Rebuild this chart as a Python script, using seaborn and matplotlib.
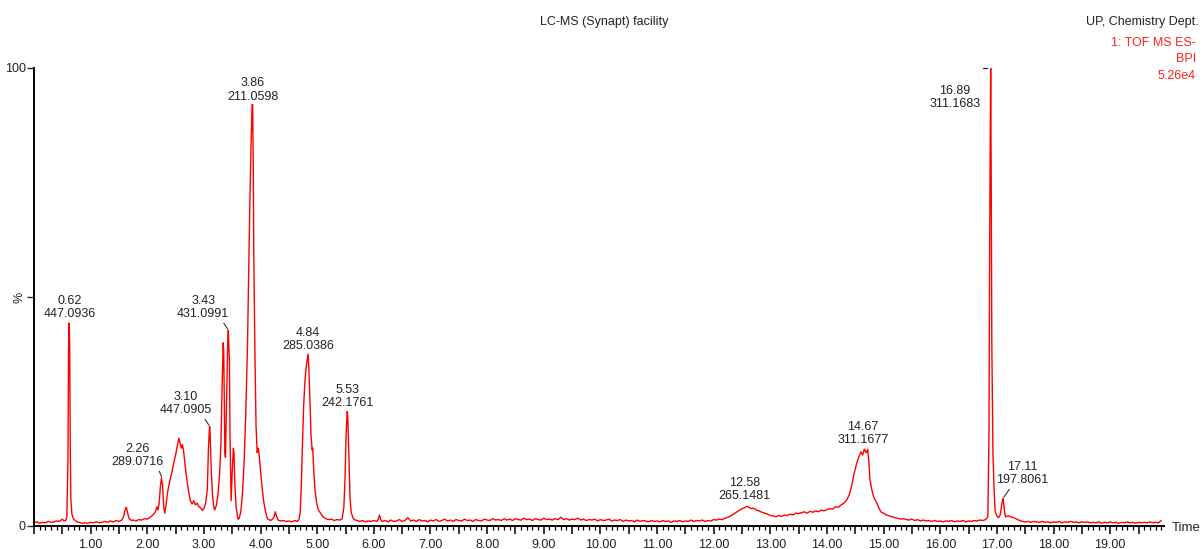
import numpy as np
import pandas as pd
import matplotlib
matplotlib.use("Agg")
import matplotlib.pyplot as plt
import seaborn as sns
from matplotlib.ticker import MultipleLocator, FuncFormatter

# ---------------- data ----------------
early_time = [0.00, 0.05, 0.10, 0.15, 0.20, 0.25, 0.30, 0.35, 0.40, 0.45, 0.50, 0.53, 0.56, 0.58,
              0.60, 0.61, 0.62, 0.63, 0.64, 0.65, 0.67, 0.70, 0.74,
              0.75, 0.80, 0.85, 0.90, 0.95, 1.00, 1.05, 1.10, 1.15, 1.20, 1.25, 1.30, 1.35, 1.40, 1.45, 1.50, 1.55,
              1.58, 1.61, 1.63, 1.65, 1.68, 1.72,
              1.75, 1.80, 1.85, 1.90, 1.95, 2.00, 2.05, 2.10, 2.14, 2.17, 2.19, 2.21, 2.23, 2.25, 2.27, 2.29, 2.31,
              2.33, 2.36, 2.40, 2.44, 2.47, 2.50, 2.53, 2.56, 2.58, 2.60, 2.62, 2.64, 2.67, 2.70, 2.73, 2.76, 2.79,
              2.82, 2.85, 2.88, 2.91, 2.94, 2.97, 3.00, 3.03, 3.06, 3.08, 3.10, 3.11, 3.13, 3.15, 3.17, 3.19, 3.22,
              3.25, 3.28, 3.30, 3.32, 3.34, 3.35, 3.37, 3.38, 3.40, 3.42, 3.43, 3.45, 3.46, 3.48, 3.50, 3.52, 3.53,
              3.55, 3.57, 3.60, 3.62, 3.65, 3.68, 3.71, 3.74, 3.77, 3.79, 3.81, 3.83, 3.85, 3.86, 3.87, 3.88, 3.90,
              3.92, 3.94, 3.96, 3.98, 4.00, 4.03, 4.06, 4.09, 4.12, 4.15, 4.18, 4.21, 4.24, 4.26, 4.28, 4.31, 4.35,
              4.40, 4.45, 4.50, 4.55, 4.60, 4.65, 4.68, 4.70, 4.72, 4.74, 4.76, 4.78, 4.80, 4.82, 4.84, 4.85, 4.87,
              4.89, 4.91, 4.92, 4.94, 4.96, 4.99, 5.02, 5.06, 5.10, 5.15, 5.20, 5.25, 5.30, 5.35, 5.40, 5.44, 5.47,
              5.49, 5.51, 5.53, 5.54, 5.56, 5.58, 5.60, 5.63, 5.66, 5.70, 5.75, 5.80, 5.85, 5.90, 5.95, 6.00, 6.05,
              6.08, 6.10, 6.12, 6.15]
early_intensity = [0.7, 0.9, 0.6, 0.8, 0.7, 1.0, 0.8, 0.9, 1.1, 1.0, 1.5, 1.1, 1.2, 2.0,
                   15, 38, 44.3, 40, 18, 6, 2.5, 1.5, 1.1,
                   0.9, 0.8, 0.6, 0.7, 0.6, 0.8, 0.7, 0.9, 0.7, 0.8, 1.0, 0.8, 1.1, 0.9, 1.2, 1.0, 1.3,
                   2.0, 3.6, 4.1, 3.0, 1.6, 1.2,
                   1.3, 1.1, 1.4, 1.3, 1.6, 1.5, 1.9, 2.4, 3.0, 4.2, 3.5, 5.0, 8.5, 10.5, 9.0, 4.0, 2.8,
                   4.5, 7.5, 10, 12, 14, 15.5, 17.5, 19.2, 18, 17, 17.8, 16.5, 13, 10, 7.5, 5.5, 4.8,
                   5.5, 4.6, 5.0, 4.2, 4.0, 3.4, 3.8, 5.0, 8, 17, 21.8, 20, 12, 7, 4.5, 3.5, 4.5,
                   7, 12, 18, 30, 40, 38, 16, 15, 28, 40, 42.8, 36, 20, 5.5, 12, 17, 16,
                   8, 4, 1.5, 1.6, 3, 7, 14, 25, 40, 55, 70, 82, 92, 92, 80, 60, 38,
                   22, 16, 17, 15, 12, 8, 5, 3, 1.6, 1.4, 1.2, 1.5, 2.0, 3.1, 2.2, 1.3, 1.1,
                   1.2, 1.0, 1.1, 0.9, 1.2, 1.0, 1.5, 3, 9, 18, 26, 31, 34, 36, 37.5, 35, 28,
                   20, 16.6, 17, 12, 8, 5, 3.5, 2.8, 2.0, 1.6, 1.4, 1.5, 1.2, 1.4, 1.3, 1.6, 4,
                   10, 20, 25, 24, 15, 6, 3, 1.8, 1.4, 1.2, 1.0, 1.2, 0.9, 1.1, 1.0, 1.2, 1.0,
                   1.5, 2.4, 1.4, 1.0]

mid_time = [6.20, 6.25, 6.30, 6.35, 6.40, 6.45, 6.50, 6.55, 6.60, 6.65, 6.70, 6.75, 6.80, 6.85, 6.90, 6.95,
            7.00, 7.05, 7.10, 7.15, 7.20, 7.25, 7.30, 7.35, 7.40, 7.45, 7.50, 7.55, 7.60, 7.65, 7.70, 7.75,
            7.80, 7.85, 7.90, 7.95, 8.00, 8.05, 8.10, 8.15, 8.20, 8.25, 8.30, 8.35, 8.40, 8.45, 8.50, 8.55,
            8.60, 8.65, 8.70, 8.75, 8.80, 8.85, 8.90, 8.95, 9.00, 9.05, 9.10, 9.15, 9.20, 9.25, 9.30, 9.35,
            9.40, 9.45, 9.50, 9.55, 9.60, 9.65, 9.70, 9.75, 9.80, 9.85, 9.90, 9.95, 10.00, 10.05, 10.10, 10.15,
            10.20, 10.25, 10.30, 10.35, 10.40, 10.45, 10.50, 10.55, 10.60, 10.65, 10.70, 10.75, 10.80, 10.85,
            10.90, 10.95, 11.00, 11.05, 11.10, 11.15, 11.20, 11.25, 11.30, 11.35, 11.40, 11.45, 11.50, 11.55,
            11.60, 11.65, 11.70, 11.75, 11.80, 11.85, 11.90, 11.95]
mid_intensity = [1.2, 0.9, 1.3, 1.0, 1.1, 1.4, 1.0, 1.2, 1.8, 1.1, 1.3, 1.0, 1.4, 1.1, 1.2, 0.9,
                 1.3, 1.1, 1.4, 1.0, 1.2, 1.5, 1.1, 1.3, 1.0, 1.4, 1.2, 1.1, 1.5, 1.2, 1.3, 1.0,
                 1.4, 1.2, 1.1, 1.5, 1.3, 1.2, 1.6, 1.3, 1.4, 1.2, 1.6, 1.3, 1.5, 1.2, 1.6, 1.4,
                 1.3, 1.7, 1.4, 1.5, 1.2, 1.6, 1.4, 1.3, 1.7, 1.4, 1.5, 1.3, 1.6, 1.4, 1.9, 1.4,
                 1.6, 1.3, 1.5, 1.4, 1.7, 1.3, 1.5, 1.2, 1.4, 1.3, 1.5, 1.1, 1.4, 1.2, 1.3, 1.5,
                 1.1, 1.3, 1.2, 1.4, 1.0, 1.3, 1.1, 1.2, 0.9, 1.3, 1.0, 1.2, 1.1, 0.9,
                 1.2, 1.0, 1.1, 0.9, 1.2, 1.0, 1.1, 0.8, 1.1, 1.0, 1.2, 0.9, 1.1, 1.0,
                 1.3, 1.0, 1.2, 1.1, 1.3, 1.0, 1.2, 1.1]

late_time = [12.00, 12.05, 12.10, 12.15, 12.20, 12.25, 12.30, 12.35, 12.40, 12.45, 12.50, 12.55, 12.58, 12.62,
             12.66, 12.70, 12.75, 12.80, 12.85, 12.90, 12.95, 13.00, 13.05, 13.10, 13.15, 13.20, 13.25, 13.30,
             13.35, 13.40, 13.45, 13.50, 13.55, 13.60, 13.65, 13.70, 13.75, 13.80, 13.85, 13.90, 13.95, 14.00,
             14.05, 14.10, 14.15, 14.20, 14.25, 14.30, 14.35, 14.40, 14.44, 14.48, 14.52, 14.56, 14.60, 14.63,
             14.66, 14.69, 14.72, 14.74, 14.76, 14.79, 14.82, 14.85, 14.88, 14.92, 14.96, 15.00, 15.05, 15.10,
             15.15, 15.20, 15.25, 15.30, 15.35, 15.40, 15.45, 15.50, 15.55, 15.60, 15.65, 15.70, 15.75, 15.80,
             15.85, 15.90, 15.95, 16.00, 16.05, 16.10, 16.15, 16.20, 16.25, 16.30, 16.35, 16.40, 16.45, 16.50,
             16.55, 16.60, 16.65, 16.70, 16.75, 16.80, 16.84, 16.86, 16.87, 16.88, 16.89, 16.90, 16.91, 16.93,
             16.95, 16.97, 17.00, 17.03, 17.06, 17.09, 17.11, 17.13, 17.15, 17.20, 17.25, 17.30, 17.35, 17.40,
             17.45, 17.50, 17.55, 17.60, 17.65, 17.70, 17.75, 17.80, 17.85, 17.90, 17.95, 18.00, 18.05, 18.10,
             18.15, 18.20, 18.25, 18.30, 18.35, 18.40, 18.45, 18.50, 18.55, 18.60, 18.65, 18.70, 18.75, 18.80,
             18.85, 18.90, 18.95, 19.00, 19.05, 19.10, 19.15, 19.20, 19.25, 19.30, 19.35, 19.40, 19.45, 19.50,
             19.55, 19.60, 19.65, 19.70, 19.75, 19.80, 19.85, 19.90]
late_intensity = [1.4, 1.3, 1.5, 1.4, 1.7, 1.9, 2.2, 2.6, 3.0, 3.4, 3.8, 4.0, 4.3, 4.1,
                  3.8, 3.9, 3.5, 3.3, 3.0, 2.8, 2.6, 2.3, 2.2, 2.0, 2.3, 2.1, 2.4, 2.3,
                  2.6, 2.4, 2.8, 2.7, 2.9, 3.1, 2.8, 3.2, 3.0, 3.3, 3.1, 3.5, 3.3, 3.6,
                  3.8, 3.7, 4.2, 4.1, 4.6, 5.0, 5.7, 7.0, 9.0, 11.5, 13.5, 15.0, 16.2, 15.5,
                  16.8, 16.0, 16.7, 14.0, 10.0, 8.0, 6.5, 5.7, 5.0, 3.8, 3.0, 2.8, 2.4, 2.2,
                  2.0, 1.8, 1.7, 1.5, 1.6, 1.4, 1.3, 1.5, 1.2, 1.4, 1.1, 1.3, 1.1, 1.2,
                  1.0, 1.2, 1.0, 1.1, 0.9, 1.1, 1.0, 1.2, 0.9, 1.1, 1.0, 1.2, 0.9, 1.1,
                  1.0, 1.2, 1.1, 1.3, 1.2, 1.4, 2.0, 20, 55, 80, 100, 75, 40, 16,
                  8, 3.1, 2.2, 1.8, 2.5, 5.0, 6.1, 3.5, 2.0, 2.2, 2.0, 1.8, 1.5, 1.2,
                  1.0, 0.9, 1.0, 0.8, 1.0, 0.9, 0.8, 1.0, 0.8, 0.9, 0.7, 0.9, 0.8, 1.0,
                  0.7, 0.9, 0.8, 1.0, 0.8, 0.9, 0.7, 0.9, 0.8, 0.9, 0.7, 0.8, 0.7, 0.9,
                  0.6, 0.8, 0.7, 0.9, 0.7, 0.8, 0.6, 0.8, 0.7, 0.9, 0.7, 0.8, 0.6, 0.8,
                  0.7, 0.8, 0.7, 0.9, 0.7, 0.8, 0.7, 1.2]

peak_rt = ["0.62", "2.26", "3.10", "3.43", "3.86", "4.84", "5.53", "12.58", "14.67", "16.89", "17.11"]
peak_mz = ["447.0936", "289.0716", "447.0905", "431.0991", "211.0598", "285.0386", "242.1761",
           "265.1481", "311.1677", "311.1683", "197.8061"]

x_tick_labels = ["1.00", "2.00", "3.00", "4.00", "5.00", "6.00", "7.00", "8.00", "9.00", "10.00",
                 "11.00", "12.00", "13.00", "14.00", "15.00", "16.00", "17.00", "18.00", "19.00"]

title_text = "LC-MS (Synapt) facility"
dept_text = "UP, Chemistry Dept."
trace_info = ["1: TOF MS ES-", "BPI", "5.26e4"]

# ---------------- figure ----------------
sns.set_style("ticks")
plt.rcParams["font.family"] = ["Liberation Sans", "DejaVu Sans"]

df = pd.DataFrame({
    "time": early_time + mid_time + late_time,
    "intensity": early_intensity + mid_intensity + late_intensity,
})

W, H = 1202, 549
fig = plt.figure(figsize=(W / 100, H / 100), dpi=100)
ax = fig.add_axes([34 / W, 23 / H, (1164 - 34) / W, 458 / H])

sns.lineplot(data=df, x="time", y="intensity", ax=ax, color="#ff0000",
             linewidth=1.0, sort=False, estimator=None)

ax.set_xlim(0, 19.95)
ax.set_ylim(0, 100)
ax.set_xlabel("")
ax.set_ylabel("")

for s in ["top", "right"]:
    ax.spines[s].set_visible(False)
for s in ["left", "bottom"]:
    ax.spines[s].set_linewidth(1.4)
    ax.spines[s].set_color("black")

# x ticks: majors every 0.5 (labels at whole minutes), minors every 0.1
ax.xaxis.set_major_locator(MultipleLocator(0.5))
ax.xaxis.set_minor_locator(MultipleLocator(0.1))
lab_map = {float(s): s for s in x_tick_labels}
ax.xaxis.set_major_formatter(FuncFormatter(lambda v, p: lab_map.get(round(v, 2), "")))
ax.tick_params(axis="x", which="major", length=6, width=1.1, direction="out",
               labelsize=9, pad=3, colors="black", labelcolor="#222222")
ax.tick_params(axis="x", which="minor", length=3, width=0.9, direction="out", colors="black")

ax.set_yticks([0, 50, 100])
ax.set_yticklabels(["0", "%", "100"])
ax.tick_params(axis="y", which="major", length=5, width=1.0, labelsize=9, pad=1, labelcolor="#222222")
ax.tick_params(axis="y", which="minor", length=0)
ax.get_yticklabels()[1].set_rotation(90)
ax.get_yticklabels()[1].set_va("center")

# peak labels
times = np.array(df["time"])
vals = np.array(df["intensity"])
px = 0.72  # points per pixel at 100 dpi
label_offsets = {
    "0.62": (1, 3, None), "2.26": (-25, 10, (0.9, 0)), "3.10": (-24, 10, (0.83, 0)),
    "3.43": (-25, 10, (0.85, 0)), "3.86": (0, 2, None), "4.84": (0, 2, None),
    "5.53": (0, 2, None), "12.58": (-2, 4, None), "14.67": (-2, 3, None),
    "16.89": (-36, -42, None), "17.11": (19, 12, (0.3, 0)),
}
for rt, mz in zip(peak_rt, peak_mz):
    t = float(rt)
    near = np.abs(times - t) <= 0.03
    h = vals[near].max()
    dx, dy, rel = label_offsets[rt]
    kw = dict(xy=(t, h), xytext=(dx * px, dy * px), textcoords="offset points",
              ha="center", va="bottom", fontsize=9, color="#222222", linespacing=1.15)
    if rel is not None:
        kw["arrowprops"] = dict(arrowstyle="-", color="#333333", lw=0.8,
                                shrinkA=0, shrinkB=1, relpos=rel)
    ax.annotate(f"{rt}\n{mz}", **kw)
    if rt == "16.89":
        # short marker dash beside the top of the clipped base peak
        ax.plot([t - 0.13, t - 0.06], [h, h], color="#222222", lw=0.9, clip_on=False)

# header texts
fig.text(604 / W, 1 - 22 / H, title_text, ha="center", va="center", fontsize=9, color="#222222")
fig.text(1199 / W, 1 - 22 / H, dept_text, ha="right", va="center", fontsize=9, color="#222222")
for i, line in enumerate(trace_info):
    fig.text(1196 / W, 1 - (43 + 16.5 * i) / H, line, ha="right", va="center",
             fontsize=9, color="#ff2020")
fig.text(1172 / W, 1 - 528 / H, "Time", ha="left", va="center", fontsize=9.5, color="#222222")

fig.savefig("out.png", dpi=100)
